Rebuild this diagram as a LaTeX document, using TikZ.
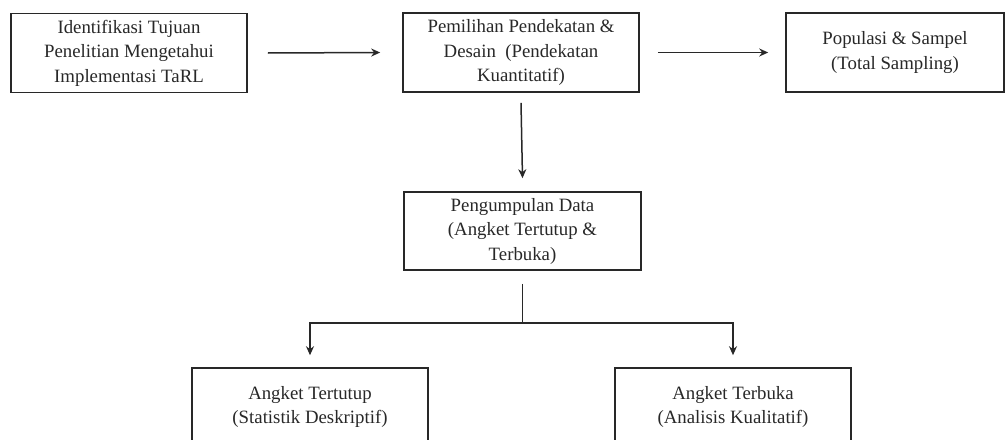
\documentclass[tikz,border=0pt]{standalone}
\usepackage{fontspec}
\setmainfont{Liberation Serif}
\usetikzlibrary{arrows.meta,calc}
\definecolor{ink}{RGB}{40,40,40}
\begin{document}
\begin{tikzpicture}[x=1pt,y=-1pt,
  box/.style={draw=ink,line width=1.6pt,text=ink,align=center,inner sep=0pt,
    minimum width=236pt,minimum height=79pt,
    font=\fontsize{18.8}{24.5}\selectfont},
  conn/.style={draw=ink,line width=1.5pt},
  arr/.style={conn,-{Stealth[length=9pt,width=8pt]}}]
\useasboundingbox (0,0) rectangle (1008,439);
\fill[white] (0,0) rectangle (1008,439);
\begin{scope}
\clip (0,0) rectangle (1008,439);
\node[box] (b1) at (129,53) {Identifikasi Tujuan\\Penelitian Mengetahui\\Implementasi TaRL};
\node[box] (b2) at (521,52.5) {Pemilihan Pendekatan \&\\Desain~~(Pendekatan\\Kuantitatif)};
\node[box,minimum width=218pt] (b3) at (895,52.5) {Populasi \& Sampel\\(Total Sampling)};
\node[box,minimum width=237pt,minimum height=78pt] (b4) at (522.5,231) {Pengumpulan Data\\(Angket Tertutup \&\\Terbuka)};
\node[box,minimum height=78pt] (b5) at (310,407) {Angket Tertutup\\(Statistik Deskriptif)};
\node[box,minimum height=78pt] (b6) at (733,407) {Angket Terbuka\\(Analisis Kualitatif)};
\coordinate (j) at ($(b4.south)+(0,52)$);
\draw[arr] ([xshift=20pt]b1.east) -- ([xshift=-22pt]b2.west);
\draw[arr] ([xshift=18pt]b2.east) -- ([xshift=-17pt]b3.west);
\draw[arr] ([yshift=-10pt]b2.south) -- ([yshift=13pt]b4.north);
\draw[conn] ([yshift=-13pt]b4.south) -- (j);
\draw[arr] (j) -| ([yshift=12pt]b5.north);
\draw[arr] (j) -| ([yshift=12pt]b6.north);
\end{scope}
\end{tikzpicture}
\end{document}
